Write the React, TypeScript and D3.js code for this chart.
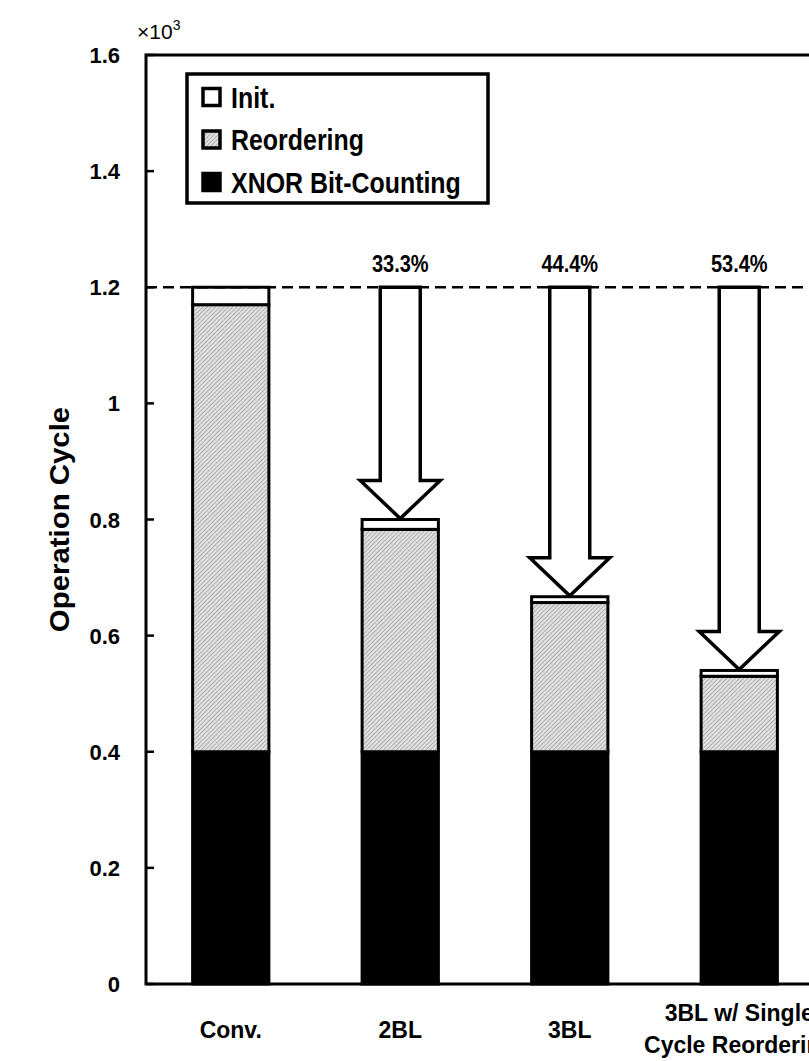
import React, { useEffect, useRef } from "react";
import * as d3 from "d3";

const categories = ["Conv.", "2BL", "3BL", "3BL w/ Single\nCycle Reordering"];
const xnorValues = [0.4, 0.4, 0.4, 0.4];
const reorderValues = [0.77, 0.383, 0.257, 0.13];
const initValues = [0.03, 0.017, 0.01, 0.01];
const reductionLabels = ["", "33.3%", "44.4%", "53.4%"];
const yTicks = [0, 0.2, 0.4, 0.6, 0.8, 1, 1.2, 1.4, 1.6];
const baselineValue = 1.2;
const seriesNames = ["Init.", "Reordering", "XNOR Bit-Counting"];

const FONT = "Liberation Sans, Arial, sans-serif";

const App = () => {
  const ref = useRef<SVGSVGElement>(null);

  useEffect(() => {
    const width = 809;
    const height = 1061;
    const left = 146;
    const right = 824;
    const top = 55;
    const bottom = 984;

    const svg = d3.select(ref.current);
    svg.selectAll("*").remove();
    svg.attr("width", width).attr("height", height);

    // squeezed text helper (reference font is narrower than Arial)
    const label = (x: number, y: number, txt: string, size: number, sx: number, anchor: string, rot = 0) =>
      svg.append("text")
        .attr("transform", `translate(${x},${y}) rotate(${rot}) scale(${sx},1)`)
        .attr("text-anchor", anchor)
        .attr("font-family", FONT)
        .attr("font-weight", "bold")
        .attr("font-size", size)
        .text(txt);

    // hatch pattern for reordering
    const defs = svg.append("defs");
    const pat = defs
      .append("pattern")
      .attr("id", "hatch")
      .attr("patternUnits", "userSpaceOnUse")
      .attr("width", 3)
      .attr("height", 3)
      .attr("patternTransform", "rotate(45)");
    pat.append("rect").attr("width", 3).attr("height", 3).attr("fill", "#e2e2e2");
    pat.append("line").attr("x1", 0).attr("y1", 0).attr("x2", 0).attr("y2", 3)
      .attr("stroke", "#8a8a8a").attr("stroke-width", 1.2);

    const x = d3.scaleBand().domain(categories).range([left, right])
      .paddingInner(0.55).paddingOuter(0.275);
    const y = d3.scaleLinear().domain([0, 1.6]).range([bottom, top]);

    const data = categories.map((c, i) => ({
      cat: c,
      xnor: xnorValues[i],
      reorder: reorderValues[i],
      init: initValues[i],
    }));
    const stack = d3.stack<any>().keys(["xnor", "reorder", "init"])(data);
    const fills: Record<string, string> = { xnor: "#000", reorder: "url(#hatch)", init: "#fff" };

    // frame
    svg.append("rect").attr("x", left).attr("y", top)
      .attr("width", right - left).attr("height", bottom - top)
      .attr("fill", "none").attr("stroke", "#000").attr("stroke-width", 3);

    // bars
    stack.forEach((layer) => {
      svg.append("g").selectAll("rect").data(layer).join("rect")
        .attr("x", (d: any) => x(d.data.cat)!)
        .attr("width", x.bandwidth())
        .attr("y", (d) => y(d[1]))
        .attr("height", (d) => y(d[0]) - y(d[1]))
        .attr("fill", fills[layer.key])
        .attr("stroke", "#000")
        .attr("stroke-width", 3);
    });

    // dashed baseline
    svg.append("line").attr("x1", left).attr("x2", right)
      .attr("y1", y(baselineValue)).attr("y2", y(baselineValue))
      .attr("stroke", "#000").attr("stroke-width", 2.5)
      .attr("stroke-dasharray", "11,6");

    // arrows
    const shaftW = 40;
    const headW = 80;
    const headH = 38;
    data.forEach((d, i) => {
      if (!reductionLabels[i]) return;
      const cx = x(d.cat)! + x.bandwidth() / 2;
      const y0 = y(baselineValue);
      const y1 = y(d.xnor + d.reorder + d.init) - 1;
      const path = d3.path();
      path.moveTo(cx - shaftW / 2, y0);
      path.lineTo(cx + shaftW / 2, y0);
      path.lineTo(cx + shaftW / 2, y1 - headH);
      path.lineTo(cx + headW / 2, y1 - headH);
      path.lineTo(cx, y1);
      path.lineTo(cx - headW / 2, y1 - headH);
      path.lineTo(cx - shaftW / 2, y1 - headH);
      path.closePath();
      svg.append("path").attr("d", path.toString())
        .attr("fill", "#fff").attr("stroke", "#000").attr("stroke-width", 3.5)
        .attr("stroke-linejoin", "miter");
      label(cx, y0 - 15, reductionLabels[i], 23, 0.87, "middle");
    });

    // y ticks
    yTicks.forEach((t) => {
      svg.append("line").attr("x1", left).attr("x2", left + 8)
        .attr("y1", y(t)).attr("y2", y(t))
        .attr("stroke", "#000").attr("stroke-width", 2.5);
      label(120, y(t) + 8, String(t), 22, 1, "end");
    });
    const mult = svg.append("text").attr("x", 137).attr("y", 39)
      .attr("font-family", FONT)
      .attr("font-size", 21)
      .text("×10");
    mult.append("tspan").attr("dy", -9).attr("font-size", 14).text("3");

    // y title
    label(69, (top + bottom) / 2, "Operation Cycle", 28, 1.05, "middle", -90);

    // x labels
    categories.forEach((c) => {
      const cx = x(c)! + x.bandwidth() / 2;
      const lines = c.split("\n");
      lines.forEach((ln, k) => {
        const yy = lines.length === 1 ? 1038 : 1021 + k * 32;
        label(cx, yy, ln, 23, 1, "middle");
      });
    });

    // legend
    svg.append("rect").attr("x", 187).attr("y", 74).attr("width", 301).attr("height", 129)
      .attr("fill", "#fff").attr("stroke", "#000").attr("stroke-width", 3.5);
    const legendFills = ["#fff", "url(#hatch)", "#000"];
    seriesNames.forEach((n, i) => {
      const cy = 97 + i * 42.5;
      svg.append("rect").attr("x", 203).attr("y", cy - 8.5).attr("width", 17).attr("height", 17)
        .attr("fill", legendFills[i]).attr("stroke", "#000").attr("stroke-width", 3.5);
      label(231, cy + 10.5, n, 29, 0.86, "start");
    });
  }, []);

  return (
    <svg ref={ref} style={{ position: "absolute", left: 0, top: 0, display: "block" }} />
  );
};

export default App;
